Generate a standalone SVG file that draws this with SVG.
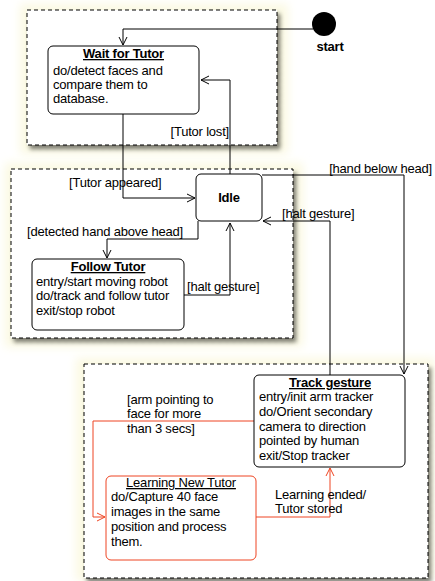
<svg xmlns="http://www.w3.org/2000/svg" width="435" height="581" viewBox="0 0 435 581">
<style>
text{font-family:"Liberation Sans",Arial,sans-serif;font-size:13px;letter-spacing:-0.2px;fill:#000}
.b{font-weight:bold}
.u{text-decoration:underline}
.c{text-anchor:middle}
.r{text-anchor:end}
.panel{fill:#fff;stroke:#000;stroke-width:1;stroke-dasharray:4,3}
.halo{fill:#fbf9e2;filter:url(#blur)}
.node{fill:#fff;stroke:#000;stroke-width:1}
.red{stroke:#ee4422}
.con{fill:none;stroke:#000;stroke-width:1}
.con.red{stroke:#ee4422}
</style>
<defs>
<filter id="blur" x="-20%" y="-20%" width="140%" height="140%"><feGaussianBlur stdDeviation="5"/></filter>
<filter id="shadow" x="-10%" y="-10%" width="130%" height="130%">
<feGaussianBlur in="SourceAlpha" stdDeviation="2"/>
<feOffset dx="3" dy="4" result="o"/>
<feComponentTransfer><feFuncA type="linear" slope="0.5"/></feComponentTransfer>
<feMerge><feMergeNode/><feMergeNode in="SourceGraphic"/></feMerge>
</filter>
<marker id="a" markerUnits="userSpaceOnUse" markerWidth="10" markerHeight="10" refX="8" refY="4" orient="auto" viewBox="0 0 10 8">
<path d="M0,0 L8,4 L0,8" fill="none" stroke="#000" stroke-width="1"/>
</marker>
<marker id="ar" markerUnits="userSpaceOnUse" markerWidth="10" markerHeight="10" refX="8" refY="4" orient="auto" viewBox="0 0 10 8">
<path d="M0,0 L8,4 L0,8" fill="none" stroke="#ee4422" stroke-width="1"/>
</marker>
</defs>
<rect width="435" height="581" fill="#fff"/>
<g id="panels">
<rect class="halo" x="20" y="4" width="268" height="150"/>
<rect class="halo" x="5" y="163" width="298" height="184"/>
<rect class="halo" x="76" y="358" width="359" height="223"/>
<rect class="panel" x="27" y="10" width="250" height="135" filter="url(#shadow)"/>
<rect class="panel" x="11" y="169" width="282" height="169" filter="url(#shadow)"/>
<rect class="panel" x="84" y="364" width="344" height="214" filter="url(#shadow)"/>
</g>
<g id="connectors">
<path class="con" d="M313,29 H123 V45" marker-end="url(#a)"/>
<path class="con" d="M123,114 V198 H195" marker-end="url(#a)"/>
<path class="con" d="M230,174 V80 H201" marker-end="url(#a)"/>
<path class="con" d="M198,221 V239 H107 V258" marker-end="url(#a)"/>
<path class="con" d="M184,295 H230 V223" marker-end="url(#a)"/>
<path class="con" d="M262,175 H404 V374" marker-end="url(#a)"/>
<path class="con" d="M330,375 V221 H263" marker-end="url(#a)"/>
<path class="con red" d="M254,421 H93 V517 H105" marker-end="url(#ar)"/>
<path class="con red" d="M256,517 H330 V468" marker-end="url(#ar)"/>
<text x="229" y="136" class="r">[Tutor lost]</text>
<text x="69" y="187">[Tutor appeared]</text>
<text x="27" y="236">[detected hand above head]</text>
<text x="187" y="291">[halt gesture]</text>
<text x="432" y="173" class="r">[hand below head]</text>
<text x="282" y="218">[halt gesture]</text>
<text x="127" y="404">[arm pointing to</text>
<text x="127" y="418">face for more</text>
<text x="127" y="433">than 3 secs]</text>
<text x="275" y="499">Learning ended/</text>
<text x="275" y="513">Tutor stored</text>
</g>
<g id="start">
<circle cx="324" cy="24" r="12" fill="#000"/>
<text x="330" y="51" class="b c">start</text>
</g>
<g id="wait">
<rect class="node" x="48" y="46" width="151" height="68" rx="5"/>
<text x="123.5" y="58" class="b u c">Wait for Tutor</text>
<text x="53" y="75">do/detect faces and</text>
<text x="53" y="89">compare them to</text>
<text x="53" y="103">database.</text>
</g>
<g id="idle">
<rect class="node" x="196" y="174" width="66" height="47" rx="5"/>
<text x="229" y="202" class="b c">Idle</text>
</g>
<g id="follow">
<rect class="node" x="32" y="259" width="152" height="71" rx="5"/>
<text x="108" y="271" class="b u c">Follow Tutor</text>
<text x="36" y="286">entry/start moving robot</text>
<text x="36" y="300">do/track and follow tutor</text>
<text x="36" y="315">exit/stop robot</text>
</g>
<g id="track">
<rect class="node" x="254" y="375" width="151" height="92" rx="5"/>
<text x="330" y="387" class="b u c">Track gesture</text>
<text x="259" y="401">entry/init arm tracker</text>
<text x="259" y="416">do/Orient secondary</text>
<text x="259" y="431">camera to direction</text>
<text x="259" y="445">pointed by human</text>
<text x="259" y="460">exit/Stop tracker</text>
</g>
<g id="learning">
<rect class="node red" x="106" y="476" width="150" height="84" rx="5"/>
<text x="181" y="487" class="u c">Learning New Tutor</text>
<text x="111" y="501">do/Capture 40 face</text>
<text x="111" y="516">images in the same</text>
<text x="111" y="531">position and process</text>
<text x="111" y="546">them.</text>
</g>
</svg>
